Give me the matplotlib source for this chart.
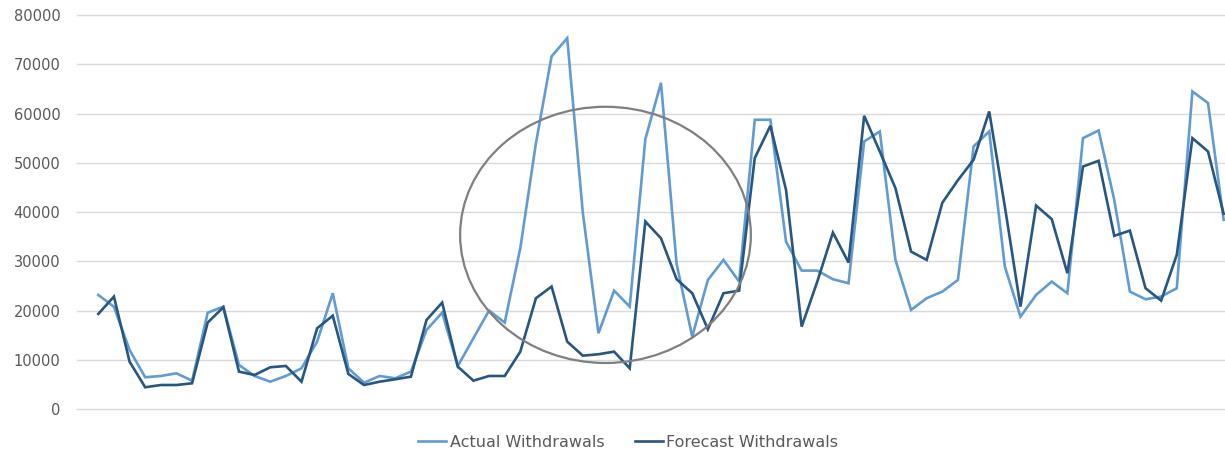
import numpy as np
import matplotlib
matplotlib.use("Agg")
import matplotlib.pyplot as plt
from matplotlib.patches import Ellipse

actual = [23200, 20800, 12040, 6500, 6760, 7300, 5800, 19600, 20830, 9000,
          6760, 5600, 6760, 8320, 13730, 23550, 8320, 5400, 6760, 6290,
          7640, 16100, 19620, 8790, 14420, 20030, 17590, 32690, 54000, 71600,
          75300, 39860, 15430, 24080, 20830, 54810, 66250, 29500, 14750, 26250,
          30310, 25910, 58740, 58740, 34030, 28140, 28140, 26390, 25580, 54340,
          56370, 30310, 20160, 22540, 23880, 26250, 53330, 56370, 28960, 18800,
          23210, 25910, 23550, 55020, 56570, 42500, 23880, 22330, 22870, 24570,
          64490, 62130, 38440]
forecast = [19350, 22870, 9670, 4470, 4930, 4930, 5280, 17600, 20700, 7640,
            6960, 8530, 8790, 5600, 16440, 19000, 7170, 4930, 5600, 6090,
            6620, 18130, 21650, 8650, 5810, 6760, 6760, 11700, 22540, 24900,
            13730, 10880, 11170, 11700, 8320, 38100, 34700, 26390, 23550, 16240,
            23550, 24080, 50970, 57530, 44530, 16770, 25910, 35860, 29770, 59550,
            52310, 44870, 32000, 30310, 41900, 46500, 50620, 60430, 41140, 20830,
            41340, 38580, 27610, 49260, 50420, 35190, 36260, 24570, 22050, 31330,
            55020, 52310, 39660]
series_names = ["Actual Withdrawals", "Forecast Withdrawals"]
yticks = [0, 10000, 20000, 30000, 40000, 50000, 60000, 70000, 80000]

W, H = 1225, 454
fig = plt.figure(figsize=(W / 100, H / 100), dpi=100)
left_px, right_px, top_px, bot_px = 77, 1225, 15, 409.3
ax = fig.add_axes([left_px / W, (H - bot_px) / H, (right_px - left_px) / W, (bot_px - top_px) / H])

x = np.arange(len(actual))
ax.plot(x, actual, color="#619bd1", lw=1.9, label=series_names[0], solid_joinstyle="miter")
ax.plot(x, forecast, color="#265681", lw=1.9, label=series_names[1], solid_joinstyle="miter")

step = 15.63
x0 = 98.3
ax.set_xlim((left_px - x0) / step, (right_px - x0) / step)
ax.set_ylim(0, 80000)
ax.set_yticks(yticks)
ax.set_yticklabels([str(v) for v in yticks])
ax.set_xticks([])
ax.yaxis.grid(True, color="#d9d9d9", lw=1.0)
ax.set_axisbelow(True)
for gl in ax.get_ygridlines():
    gl.set_clip_on(False)
for s in ax.spines.values():
    s.set_visible(False)
ax.tick_params(axis="y", length=0, pad=12, labelsize=10.5, labelcolor="#595959")

ell = Ellipse((32.45, 35390), 18.6, 51980, fill=False, edgecolor="#7f7f7f", lw=1.6, zorder=5)
ax.add_patch(ell)

fig.legend(loc="center", bbox_to_anchor=(0.513, 0.026), ncol=2, frameon=False,
           fontsize=11.5, handlelength=1.75, handletextpad=0.2, columnspacing=1.95,
           labelcolor="#595959")

fig.savefig("out.png", dpi=100)
